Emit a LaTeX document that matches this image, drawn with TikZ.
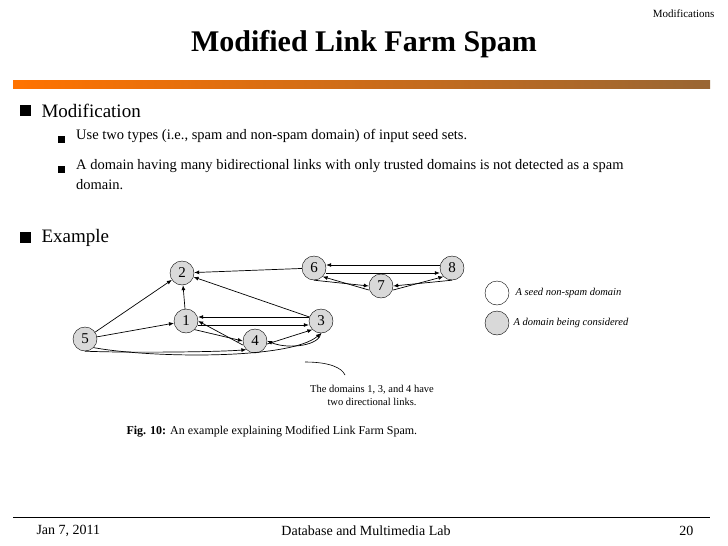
\documentclass[tikz,border=0pt]{standalone}
\usepackage{fontspec}
\setmainfont{Liberation Serif}
\usetikzlibrary{arrows.meta}
\begin{document}
\begin{tikzpicture}[x=1pt,y=-1pt,
  dom/.style={circle,draw,fill=gray!30,minimum size=24pt,inner sep=0pt,font=\fontsize{15}{15}\selectfont},
  lnk/.style={-{Latex[length=5pt,width=4pt]},line width=0.7pt},
  bul/.style={anchor=west,font=\fontsize{19}{22}\selectfont},
  sub/.style={anchor=north west,align=left,font=\fontsize{14.5}{20}\selectfont,inner sep=0pt}]
\useasboundingbox (0,0) rectangle (728,546);
\node[anchor=north east,font=\fontsize{11}{12}\selectfont] (hdr) at (718,6) {Modifications};
\node[font=\bfseries\fontsize{30}{32}\selectfont] (title) at (364,44) {Modified Link Farm Spam};
\shade[left color=orange!90!red, right color=brown!80!black] (13,80) rectangle (710,88);
% bullets
\fill (20,105) rectangle (31,116);
\node[bul] (b1) at (38,111) {Modification};
\fill (58,136) rectangle (65,143);
\node[sub] (s1) at (76,129) {Use two types (i.e., spam and non-spam domain) of input seed sets.};
\fill (58,166) rectangle (65,173);
\node[sub] (s2) at (76,159) {A domain having many bidirectional links with only trusted domains is not detected as a spam\\domain.};
\fill (20,232) rectangle (31,243);
\node[bul] (b2) at (38,238) {Example};
% graph
\node[dom] (n2) at (182,273) {2};
\node[dom] (n6) at (314,268) {6};
\node[dom] (n8) at (452,268) {8};
\node[dom] (n7) at (381,286) {7};
\node[dom] (n1) at (186,321) {1};
\node[dom] (n3) at (321,321) {3};
\node[dom] (n4) at (255,341) {4};
\node[dom] (n5) at (85,339) {5};
\draw[lnk] (n5) -- (n2);
\draw[lnk] (n1) -- (n2);
\draw[lnk] (n3) -- (n2);
\draw[lnk] (n6) -- (n2);
\draw[lnk] (n5) -- (n1);
\draw[lnk] ([yshift=-4]n1.east) -- ([yshift=-4]n3.west);
\draw[lnk] ([yshift=4]n3.west) -- ([yshift=4]n1.east);
\draw[lnk] (n1.south east) -- (n4.west);
\draw[lnk] ([yshift=-4]n4.west) -- (n1.east);
\draw[lnk] ([yshift=-3]n4.east) -- (n3.south west);
\draw[lnk] (n3.south) .. controls (320,345) and (290,350) .. (n4.east);
\draw[lnk] (n5.south) .. controls (130,353) and (220,352) .. (n4.south west);
\draw[lnk] (n5.south east) .. controls (150,358) and (290,360) .. (n3.south);
\draw[lnk] ([yshift=-5]n6.east) -- ([yshift=-5]n8.west);
\draw[lnk] ([yshift=3]n8.west) -- ([yshift=3]n6.east);
\draw[lnk] (n6.south) -- (n7.west);
\draw[lnk] ([yshift=-4]n7.west) -- (n6.south east);
\draw[lnk] ([yshift=-4]n7.east) -- (n8.south west);
\draw[lnk] (n8.south) -- (n7.east);
% legend
\node[circle,draw,minimum size=24pt] (l1) at (497,293) {};
\node[anchor=west,font=\itshape\fontsize{10.5}{12}\selectfont] (lt1) at (512,293) {A seed non-spam domain};
\node[circle,draw,fill=gray!30,minimum size=24pt] (l2) at (497,323) {};
\node[anchor=west,font=\itshape\fontsize{10.5}{12}\selectfont] (lt2) at (510,323) {A domain being considered};
% note
\coordinate (c1) at (305,362);
\coordinate (c2) at (345,375);
\draw[line width=0.6pt] (c1) .. controls (330,362) and (342,368) .. (c2);
\node[align=center,font=\fontsize{10.5}{13}\selectfont] (note) at (372,395) {The domains 1, 3, and 4 have\\two directional links.};
\node[anchor=west,font=\fontsize{12}{14}\selectfont] (cap) at (123,432) {\textbf{Fig. 10:} An example explaining Modified Link Farm Spam.};
% footer
\draw[line width=0.8pt] (13,517) -- (710,517);
\node[anchor=west,font=\fontsize{14}{16}\selectfont] (f1) at (33,531) {Jan 7, 2011};
\node[font=\fontsize{14}{16}\selectfont] (f2) at (366,531) {Database and Multimedia Lab};
\node[anchor=east,font=\fontsize{14}{16}\selectfont] (f3) at (697,531) {20};
\end{tikzpicture}
\end{document}
